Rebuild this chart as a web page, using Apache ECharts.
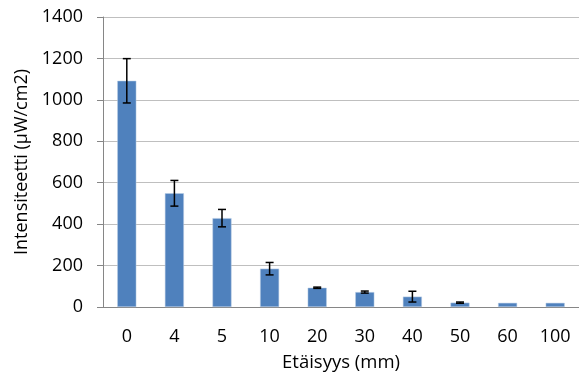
<!DOCTYPE html>
<html><head><meta charset="utf-8">
<script src="https://cdn.jsdelivr.net/npm/echarts@6/dist/echarts.min.js"></script>
<style>html,body{margin:0;padding:0;background:#fff}#c{width:579px;height:380px}</style>
</head><body><div id="c"></div>
<script>
const categories = ['0','4','5','10','20','30','40','50','60','100'];
const values = [1092, 549, 429, 185, 93, 72, 50, 21, 20, 20];
const errors = [107, 62, 42, 30, 3, 5, 26, 3, 0, 0];
const yTicks = [0, 200, 400, 600, 800, 1000, 1200, 1400];

const FONT = 'Open Sans';
const chart = echarts.init(document.getElementById('c'));
chart.setOption({
  animation: false,
  textStyle: {fontFamily: FONT},
  grid: {left: 103, top: 17, width: 479, bottom: 73},
  xAxis: {
    type: 'category', data: categories,
    name: 'Etäisyys (mm)', nameLocation: 'middle', nameGap: 46,
    nameTextStyle: {fontSize: 18.5, color: '#000', fontFamily: FONT},
    axisLine: {lineStyle: {color: '#868686', width: 1}},
    axisTick: {show: false},
    axisLabel: {fontSize: 18, color: '#000', margin: 21, fontFamily: FONT}
  },
  yAxis: {
    type: 'value', min: 0, max: 1400, interval: 200,
    name: 'Intensiteetti (μW/cm2)', nameLocation: 'middle', nameGap: 68, nameRotate: 90,
    nameTextStyle: {fontSize: 18, color: '#000', fontFamily: FONT},
    axisLine: {show: true, lineStyle: {color: '#868686', width: 1}},
    axisTick: {show: true, length: 6, lineStyle: {color: '#868686'}},
    axisLabel: {fontSize: 18, color: '#000', margin: 20, fontFamily: FONT,
      formatter: v => yTicks.includes(v) ? String(v) : ''},
    splitLine: {lineStyle: {color: '#BFBFBF', width: 1}}
  },
  series: [
    {
      type: 'bar', data: values, barWidth: 19,
      itemStyle: {color: '#4F81BD', borderColor: '#B9CDE5', borderWidth: 0.5}
    },
    {
      type: 'custom',
      data: values.map((v, i) => [i, v - errors[i], v + errors[i]]),
      z: 10,
      renderItem: function (params, api) {
        const i = api.value(0);
        if (api.value(2) - api.value(1) < 1e-6) return null;
        const lo = api.coord([i, api.value(1)]);
        const hi = api.coord([i, api.value(2)]);
        const hw = 4;
        const st = {stroke: '#000', lineWidth: 1.5};
        return {
          type: 'group', children: [
            {type: 'line', shape: {x1: hi[0], y1: hi[1], x2: lo[0], y2: lo[1]}, style: st},
            {type: 'line', shape: {x1: hi[0] - hw, y1: hi[1], x2: hi[0] + hw, y2: hi[1]}, style: st},
            {type: 'line', shape: {x1: lo[0] - hw, y1: lo[1], x2: lo[0] + hw, y2: lo[1]}, style: st}
          ]
        };
      }
    }
  ]
});
</script></body></html>
